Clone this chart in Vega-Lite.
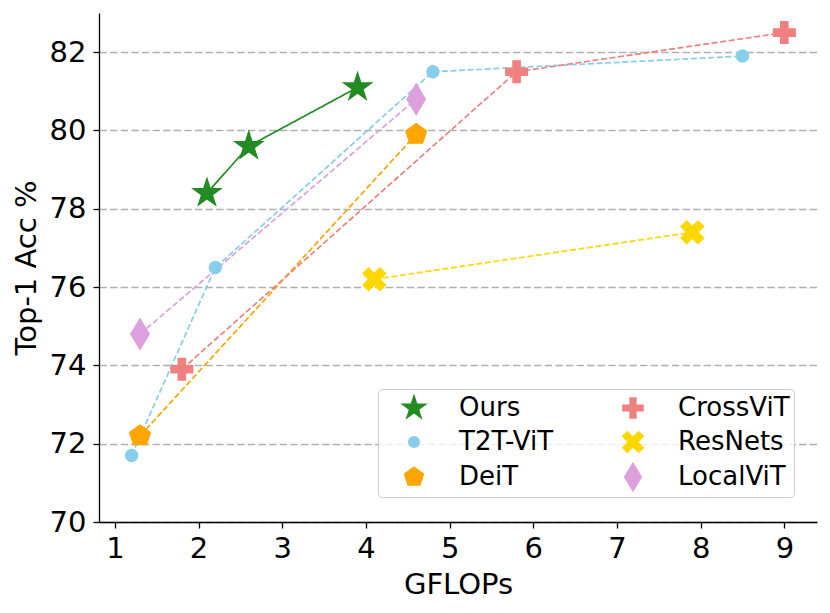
{
  "$schema": "https://vega.github.io/schema/vega-lite/v6.json",
  "description": "Top-1 accuracy vs GFLOPs for several vision backbones",
  "width": 718,
  "height": 509,
  "autosize": {"type": "none"},
  "padding": {"left": 99, "top": 13, "right": 13, "bottom": 91},
  "data": {
    "values": [
      {"model": "Ours", "gflops": 2.1, "acc": 78.4},
      {"model": "Ours", "gflops": 2.6, "acc": 79.6},
      {"model": "Ours", "gflops": 3.9, "acc": 81.1},
      {"model": "T2T-ViT", "gflops": 1.2, "acc": 71.7},
      {"model": "T2T-ViT", "gflops": 2.2, "acc": 76.5},
      {"model": "T2T-ViT", "gflops": 4.8, "acc": 81.5},
      {"model": "T2T-ViT", "gflops": 8.5, "acc": 81.9},
      {"model": "DeiT", "gflops": 1.3, "acc": 72.2},
      {"model": "DeiT", "gflops": 4.6, "acc": 79.9},
      {"model": "CrossViT", "gflops": 1.8, "acc": 73.9},
      {"model": "CrossViT", "gflops": 5.8, "acc": 81.5},
      {"model": "CrossViT", "gflops": 9.0, "acc": 82.5},
      {"model": "ResNets", "gflops": 4.1, "acc": 76.2},
      {"model": "ResNets", "gflops": 7.9, "acc": 77.4},
      {"model": "LocalViT", "gflops": 1.3, "acc": 74.8},
      {"model": "LocalViT", "gflops": 4.6, "acc": 80.8}
    ]
  },
  "encoding": {
    "x": {
      "field": "gflops",
      "type": "quantitative",
      "scale": {"domain": [0.81, 9.39], "nice": false, "zero": false},
      "axis": {
        "title": "GFLOPs",
        "values": [1, 2, 3, 4, 5, 6, 7, 8, 9],
        "grid": false,
        "labelPadding": 6,
        "titleX": 359,
        "titleY": 71,
        "titleBaseline": "alphabetic"
      }
    },
    "y": {
      "field": "acc",
      "type": "quantitative",
      "scale": {"domain": [70, 83], "nice": false, "zero": false},
      "axis": {
        "title": "Top-1 Acc %",
        "values": [70, 72, 74, 76, 78, 80, 82],
        "grid": true,
        "gridColor": "#b0b0b0",
        "gridDash": [7.4, 3.2],
        "gridWidth": 1.6,
        "labelPadding": 7,
        "titleX": -64,
        "titleY": 254.5,
        "titleAngle": 270,
        "titleBaseline": "alphabetic"
      }
    }
  },
  "layer": [
    {
      "mark": {"type": "line", "strokeWidth": 1.7},
      "encoding": {
        "color": {
          "field": "model",
          "type": "nominal",
          "scale": {
            "domain": ["Ours", "T2T-ViT", "DeiT", "CrossViT", "ResNets", "LocalViT"],
            "range": ["#228b22", "#87ceeb", "#ffa500", "#f08080", "#ffd700", "#dda0dd"]
          },
          "legend": {
            "title": null,
            "orient": "none",
            "legendX": 279,
            "legendY": 376,
            "columns": 2,
            "padding": 4,
            "rowPadding": 6,
            "columnPadding": 47,
            "symbolSize": 900,
            "symbolStrokeWidth": 0,
            "symbolOffset": 17,
            "labelOffset": 30,
            "labelFont": "DejaVu Sans",
            "labelFontSize": 26,
            "labelColor": "black",
            "strokeColor": "#cccccc",
            "fillColor": "rgba(255,255,255,0.8)",
            "cornerRadius": 4
          }
        },
        "strokeDash": {
          "field": "model",
          "type": "nominal",
          "scale": {
            "domain": ["Ours", "T2T-ViT", "DeiT", "CrossViT", "ResNets", "LocalViT"],
            "range": [[1, 0], [6, 2.6], [6, 2.6], [6, 2.6], [6, 2.6], [6, 2.6]]
          },
          "legend": null
        }
      }
    },
    {
      "mark": {"type": "point", "filled": true, "opacity": 1, "size": 900, "strokeWidth": 1.4},
      "encoding": {
        "color": {
          "field": "model",
          "type": "nominal",
          "legend": null
        },
        "stroke": {
          "field": "model",
          "type": "nominal",
          "scale": {
            "domain": ["Ours", "T2T-ViT", "DeiT", "CrossViT", "ResNets", "LocalViT"],
            "range": ["#228b22", "#87ceeb", "#ffa500", "#f08080", "#ffd700", "#dda0dd"]
          },
          "legend": null
        },
        "shape": {
          "field": "model",
          "type": "nominal",
          "scale": {
            "domain": ["Ours", "T2T-ViT", "DeiT", "CrossViT", "ResNets", "LocalViT"],
            "range": [
              "M0,-0.967L0.217,-0.299L0.919,-0.299L0.351,0.114L0.568,0.782L0,0.369L-0.568,0.782L-0.351,0.114L-0.919,-0.299L-0.217,-0.299Z",
              "M0.4,0L0.37,0.153L0.283,0.283L0.153,0.37L0,0.4L-0.153,0.37L-0.283,0.283L-0.37,0.153L-0.4,0L-0.37,-0.153L-0.283,-0.283L-0.153,-0.37L0,-0.4L0.153,-0.37L0.283,-0.283L0.37,-0.153Z",
              "M0,-0.722L0.687,-0.223L0.425,0.584L-0.425,0.584L-0.687,-0.223Z",
              "M-0.24,-0.72L0.24,-0.72L0.24,-0.24L0.72,-0.24L0.72,0.24L0.24,0.24L0.24,0.72L-0.24,0.72L-0.24,0.24L-0.72,0.24L-0.72,-0.24L-0.24,-0.24Z",
              "M-0.377,-0.753L0,-0.377L0.377,-0.753L0.753,-0.377L0.377,0L0.753,0.377L0.377,0.753L0,0.377L-0.377,0.753L-0.753,0.377L-0.377,0L-0.753,-0.377Z",
              "M0,-1.02L0.612,0L0,1.02L-0.612,0Z"
            ]
          },
          "legend": null
        }
      }
    }
  ],
  "config": {
    "view": {"stroke": null},
    "font": "DejaVu Sans",
    "axis": {
      "domainColor": "black",
      "domainWidth": 1.3,
      "tickColor": "black",
      "tickWidth": 1.3,
      "tickSize": 6,
      "labelFont": "DejaVu Sans",
      "labelFontSize": 29,
      "labelColor": "black",
      "titleFont": "DejaVu Sans",
      "titleFontSize": 29,
      "titleFontWeight": "normal",
      "titleColor": "black"
    }
  }
}
